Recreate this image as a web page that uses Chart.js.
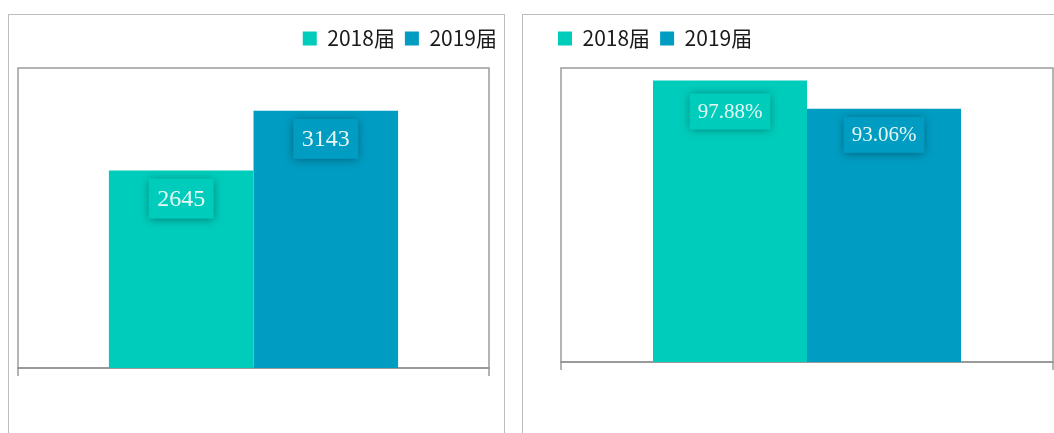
<!DOCTYPE html>
<html>
<head>
<meta charset="utf-8">
<script src="https://cdn.jsdelivr.net/npm/chart.js@4/dist/chart.umd.min.js"></script>
<style>
  body { margin: 0; width: 1054px; height: 433px; overflow: hidden; background: #fff; position: relative; }
  .frame { position: absolute; top: 14px; height: 440px; border: 1px solid #bdbdbd; box-sizing: border-box; }
  #frameLeft { left: 8px; width: 497px; }
  #frameRight { left: 522px; width: 560px; }
  canvas { position: absolute; top: 0; }
  #countChart { left: 0; }
  #rateChart { left: 515px; }
</style>
</head>
<body>
<div class="frame" id="frameLeft"></div>
<div class="frame" id="frameRight"></div>
<canvas id="countChart" width="515" height="433"></canvas>
<canvas id="rateChart" width="539" height="433"></canvas>
<script>
// data
const categories = ['毕业生'];
const seriesNames = ['2018届', '2019届'];
const seriesColors = ['#00CCBB', '#009CC2'];
const countValues = [2645, 3143];   // left chart
const rateValues = [97.88, 93.06];  // right chart, %

// grey box round the plot area (bottom edge is the x axis)
const plotFrame = {
  id: 'plotFrame',
  beforeDatasetsDraw(chart) {
    const { ctx, chartArea: a } = chart;
    ctx.save();
    ctx.strokeStyle = '#9c9c9c';
    ctx.lineWidth = 1.5;
    ctx.beginPath();
    ctx.moveTo(a.left, a.bottom);
    ctx.lineTo(a.left, a.top);
    ctx.lineTo(a.right, a.top);
    ctx.lineTo(a.right, a.bottom);
    ctx.stroke();
    ctx.restore();
  }
};

// value labels in a shadowed box just under the bar top
const barLabels = {
  id: 'barLabels',
  afterDatasetsDraw(chart, args, opts) {
    const ctx = chart.ctx;
    chart.data.datasets.forEach((ds, i) => {
      const meta = chart.getDatasetMeta(i);
      meta.data.forEach((bar, j) => {
        const text = opts.format(ds.data[j]);
        ctx.save();
        ctx.font = opts.font;
        const w = ctx.measureText(text).width + opts.padX * 2;
        const h = opts.height;
        const x = bar.x - w / 2;
        const y = bar.y + opts.gap[i];
        ctx.shadowColor = 'rgba(0, 0, 0, 0.38)';
        ctx.shadowBlur = 9;
        ctx.shadowOffsetY = 1;
        ctx.fillStyle = ds.backgroundColor;
        ctx.fillRect(x, y, w, h);
        ctx.restore();

        ctx.save();
        ctx.font = opts.font;
        ctx.fillStyle = '#e6f8f5';
        ctx.textAlign = 'center';
        ctx.textBaseline = 'middle';
        ctx.fillText(text, bar.x, y + h / 2 + 1);
        ctx.restore();
      });
    });
  }
};

// extra room between legend and plot area
const legendGap = {
  id: 'legendGap',
  beforeInit(chart, args, opts) {
    const fit = chart.legend.fit;
    chart.legend.fit = function () {
      fit.bind(chart.legend)();
      this.height += opts.size;
    };
  }
};

const makeChart = (id, values, cfg) => {
  const ctx = document.getElementById(id).getContext('2d');
  return new Chart(ctx, {
    type: 'bar',
    data: {
      labels: categories,
      datasets: seriesNames.map((name, i) => ({
        label: name,
        data: [values[i]],
        backgroundColor: seriesColors[i],
        borderWidth: 0,
        categoryPercentage: cfg.groupWidth,
        barPercentage: 1
      }))
    },
    plugins: [legendGap, plotFrame, barLabels],
    options: {
      responsive: false,
      animation: false,
      devicePixelRatio: 1,
      layout: { padding: cfg.padding },
      scales: {
        x: {
          type: 'category',
          offset: true,
          ticks: { display: false },
          grid: {
            offset: true,
            drawOnChartArea: false,
            drawTicks: true,
            tickLength: 8,
            color: '#b3b3b3',
            lineWidth: 2
          },
          border: { display: true, color: '#9a9a9a', width: 2 }
        },
        y: {
          position: cfg.yPos,
          min: cfg.min,
          max: cfg.max,
          ticks: { display: false },
          grid: { display: false },
          border: { display: false },
          afterFit(scale) { scale.width = cfg.yWidth; }
        }
      },
      plugins: {
        tooltip: { enabled: false },
        legend: {
          position: 'top',
          align: cfg.legendAlign,
          labels: {
            boxWidth: 14,
            boxHeight: 14,
            padding: 10,
            color: '#1a1a1a',
            font: { family: '"Noto Sans CJK SC", "Noto Sans", sans-serif', size: 21 }
          }
        },
        legendGap: { size: 9 },
        barLabels: cfg.labels
      }
    }
  });
};

makeChart('countChart', countValues, {
  groupWidth: 0.614,
  padding: { top: 18, left: 18, right: 8, bottom: 57 },
  yPos: 'right',
  yWidth: 18,
  min: 1000,
  max: 3500,
  legendAlign: 'end',
  labels: {
    font: '24px "Liberation Serif", serif',
    padX: 8.5,
    height: 40,
    gap: [8, 8],
    format: (v) => String(v)
  }
});

makeChart('rateChart', rateValues, {
  groupWidth: 0.626,
  padding: { top: 18, left: 33, right: 1, bottom: 63 },
  yPos: 'left',
  yWidth: 13,
  min: 50,
  max: 100,
  legendAlign: 'start',
  labels: {
    font: '21px "Liberation Serif", serif',
    padX: 8,
    height: 36,
    gap: [13, 8],
    format: (v) => v.toFixed(2) + '%'
  }
});
</script>
</body>
</html>
